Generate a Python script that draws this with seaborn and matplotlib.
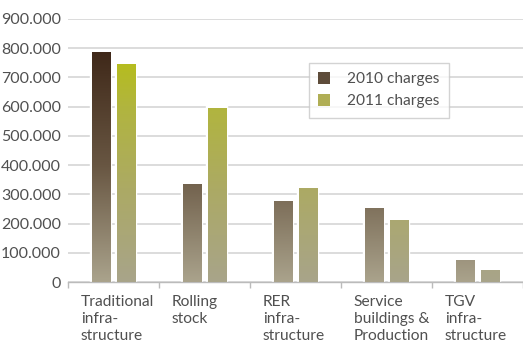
import numpy as np
import pandas as pd
import matplotlib
matplotlib.use("Agg")
import matplotlib.pyplot as plt
from matplotlib.patches import Patch
import seaborn as sns

categories = ["Traditional\ninfra-\nstructure", "Rolling\nstock", "RER\ninfra-\nstructure",
              "Service\nbuildings &\nProduction", "TGV\ninfra-\nstructure"]
charges_2010 = [787000, 335000, 274000, 253000, 75000]
charges_2011 = [743000, 595000, 321000, 209000, 38000]
series = ["2010 charges", "2011 charges"]
y_ticks = [0, 100000, 200000, 300000, 400000, 500000, 600000, 700000, 800000, 900000]
y_tick_labels = ["0", "100.000", "200.000", "300.000", "400.000", "500.000",
                 "600.000", "700.000", "800.000", "900.000"]

df = pd.DataFrame({
    "category": categories * 2,
    "series": [series[0]] * 5 + [series[1]] * 5,
    "value": charges_2010 + charges_2011,
})

# gradient stops (value, rgb)
grad = {
    series[0]: ([0, 400000, 800000], [(170, 163, 140), (104, 86, 66), (62, 39, 24)]),
    series[1]: ([0, 320000, 600000, 750000],
                [(168, 164, 138), (172, 170, 100), (177, 181, 62), (182, 189, 30)]),
}

sns.set_theme(style="white")
plt.rcParams["font.family"] = ["Lato", "DejaVu Sans"]
FW = "normal"
FS = 11.5
FS_LAB = 11.2
text_color = "#505050"

fig = plt.figure(figsize=(5.23, 3.47), dpi=100)
ax = fig.add_axes([68 / 523, 1 - 282 / 347, 455 / 523, (282 - 19) / 347])

sns.barplot(data=df, x="category", y="value", hue="series", order=categories,
            hue_order=series, width=0.55, gap=0.25, ax=ax, legend=False,
            palette=["#5e4c3a", "#b0b048"], edgecolor="white", linewidth=0)

ax.set_ylim(0, 900000)
ax.set_xlim(-0.5, 4.5)
ax.set_yticks(y_ticks)
ax.set_yticklabels(y_tick_labels, color=text_color, fontsize=FS, fontweight=FW)
ax.tick_params(axis="y", length=0, pad=5)
ax.grid(axis="y", color="#d9d9d9", linewidth=1.3)
ax.set_axisbelow(True)
for s in ["left", "right", "top"]:
    ax.spines[s].set_visible(False)
ax.spines["bottom"].set_color("#bbbbbb")
ax.spines["bottom"].set_linewidth(1.0)
ax.set_xlabel("")
ax.set_ylabel("")

# x ticks at category boundaries, labels left-aligned text
ax.set_xticks(np.arange(-0.5, 5.0, 1.0))
ax.set_xticklabels([])
ax.tick_params(axis="x", length=4, width=1.0, color="#bbbbbb", direction="out", bottom=True)
trans = matplotlib.transforms.blended_transform_factory(ax.transData, ax.transAxes)
for i, lab in enumerate(categories):
    ax.text(i - 0.36, -0.05, lab, transform=trans, ha="left", va="top",
            fontsize=FS_LAB, fontweight=FW, color=text_color, linespacing=1.28)

# gradient fill for each bar
for cont, name in zip(ax.containers, series):
    vals, cols = grad[name]
    cols = np.array(cols) / 255.0
    for bar in cont:
        x0, w, h = bar.get_x(), bar.get_width(), bar.get_height()
        ys = np.linspace(h, 0, 200)
        rgb = np.stack([np.interp(ys, vals, cols[:, k]) for k in range(3)], axis=1)
        img = rgb[:, None, :]
        bar.set_facecolor("white")
        bar.set_edgecolor("white")
        bar.set_linewidth(3.2)
        bar.set_zorder(2)
        ax.imshow(img, extent=[x0, x0 + w, 0, h], aspect="auto", zorder=3,
                  interpolation="bilinear")
ax.set_xlim(-0.5, 4.5)
ax.set_ylim(0, 900000)

handles = [Patch(facecolor="#5e4c3a", edgecolor="none"),
           Patch(facecolor="#b0ae55", edgecolor="none")]
leg = ax.legend(handles, series, loc="upper left",
                bbox_to_anchor=((309 - 68) / 455, 1 - (63 - 19) / 263),
                frameon=True, fancybox=False, edgecolor="#c8c8c8",
                prop={"size": FS_LAB, "weight": FW},
                handlelength=0.75, handleheight=0.75, handletextpad=1.1,
                borderpad=0.6, labelspacing=0.5, borderaxespad=0)
leg.get_frame().set_linewidth(1.0)
for t in leg.get_texts():
    t.set_color(text_color)

fig.savefig("out.png", dpi=100)
